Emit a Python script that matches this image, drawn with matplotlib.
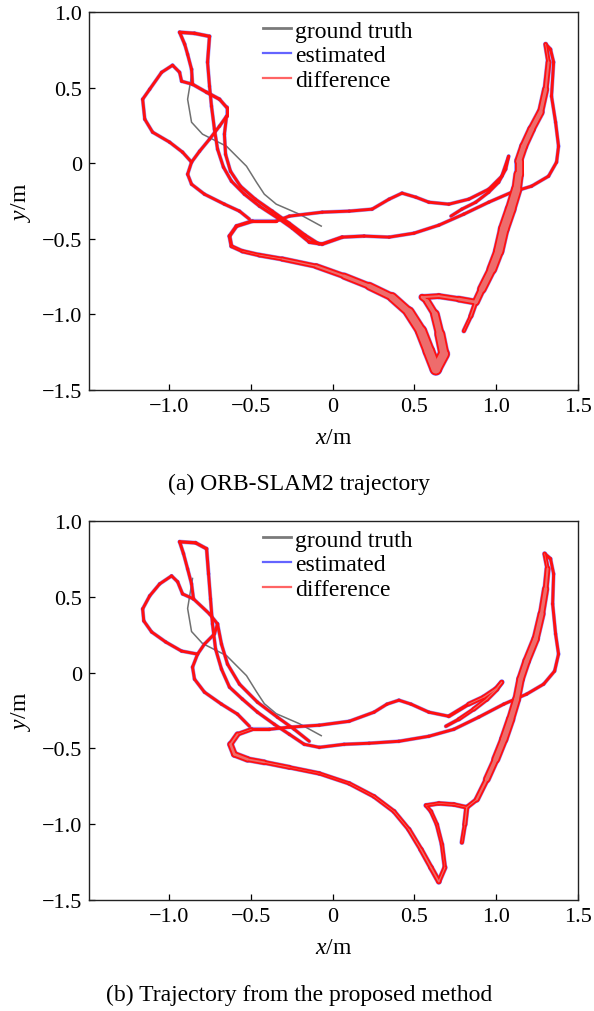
import numpy as np
import matplotlib
matplotlib.use("Agg")
import matplotlib.pyplot as plt
from matplotlib.collections import LineCollection
from matplotlib.lines import Line2D

plt.rcParams['font.family'] = ['Liberation Serif', 'DejaVu Serif']
plt.rcParams['mathtext.fontset'] = 'custom'
plt.rcParams['mathtext.rm'] = 'Liberation Serif'
plt.rcParams['mathtext.it'] = 'Liberation Serif:italic'
plt.rcParams['axes.unicode_minus'] = True

# ---------------- data ----------------
x_ticks = [-1.0, -0.5, 0.0, 0.5, 1.0, 1.5]
x_tick_labels = ['\u22121.0', '\u22120.5', '0', '0.5', '1.0', '1.5']
y_ticks = [-1.5, -1.0, -0.5, 0.0, 0.5, 1.0]
y_tick_labels = ['\u22121.5', '\u22121.0', '\u22120.5', '0', '0.5', '1.0']
legend_labels = ['ground truth', 'estimated', 'difference']
captions = ['(a) ORB-SLAM2 trajectory', '(b) Trajectory from the proposed method']

# ground-truth segment visible in both panels (m)
gt_x = [-0.857, -0.887, -0.863, -0.796, -0.649, -0.527, -0.466, -0.418, -0.345, -0.204, -0.070]
gt_y = [0.621, 0.423, 0.271, 0.192, 0.112, -0.020, -0.126, -0.205, -0.271, -0.337, -0.416]

# (a) ORB-SLAM2 estimated track (m) and difference magnitude (m)
orb_main_x = [0.723, 0.790, 0.875, 0.954, 1.015, 1.058, 1.076, 1.034, 0.954, 0.832,
              0.710, 0.588, 0.509, 0.424, 0.345, 0.241, 0.101, -0.064, -0.265, -0.345,
              -0.491, -0.588, -0.631, -0.619, -0.552, -0.448, -0.308, -0.101, 0.070, 0.223,
              0.363, 0.466, 0.540, 0.588, 0.631, 0.680, 0.655, 0.625, 0.576, 0.546,
              0.649, 0.771, 0.875, 0.912, 0.973, 1.015, 1.046, 1.088, 1.125, 1.137,
              1.137, 1.168, 1.216, 1.271, 1.302, 1.320, 1.302, 1.332, 1.351, 1.338,
              1.363, 1.381, 1.369, 1.320, 1.216, 1.095, 0.954, 0.802, 0.649, 0.497,
              0.345, 0.192, 0.058, -0.064, -0.143, -0.247, -0.326, -0.448, -0.540, -0.619,
              -0.668, -0.704, -0.723, -0.741, -0.753, -0.765, -0.753, -0.845, -0.936, -0.905,
              -0.887, -0.863, -0.857, -0.771, -0.692, -0.649, -0.649, -0.692, -0.753, -0.814,
              -0.863, -0.887, -0.863, -0.784, -0.662, -0.570, -0.509]
orb_main_y = [-0.350, -0.304, -0.258, -0.192, -0.126, -0.040, 0.046, -0.086, -0.172, -0.238,
              -0.271, -0.258, -0.225, -0.198, -0.238, -0.304, -0.317, -0.324, -0.350, -0.383,
              -0.383, -0.416, -0.482, -0.549, -0.582, -0.608, -0.634, -0.681, -0.747, -0.813,
              -0.886, -0.985, -1.110, -1.243, -1.362, -1.262, -1.130, -0.998, -0.912, -0.886,
              -0.879, -0.899, -0.919, -0.833, -0.701, -0.582, -0.436, -0.304, -0.172, -0.073,
              0.013, 0.112, 0.225, 0.337, 0.489, 0.668, 0.787, 0.753, 0.668, 0.443,
              0.271, 0.112, 0.007, -0.086, -0.152, -0.192, -0.258, -0.337, -0.410, -0.463,
              -0.489, -0.482, -0.489, -0.535, -0.522, -0.430, -0.370, -0.284, -0.205, -0.119,
              -0.026, 0.093, 0.225, 0.377, 0.509, 0.668, 0.839, 0.859, 0.866, 0.787,
              0.720, 0.621, 0.522, 0.469, 0.423, 0.370, 0.311, 0.245, 0.159, 0.079,
              0.007, -0.073, -0.139, -0.205, -0.271, -0.317, -0.370]
orb_main_e = [0.018, 0.018, 0.018, 0.018, 0.018, 0.018, 0.018, 0.018, 0.018, 0.018,
              0.018, 0.018, 0.018, 0.018, 0.018, 0.018, 0.018, 0.018, 0.018, 0.018,
              0.022, 0.022, 0.022, 0.022, 0.024, 0.026, 0.028, 0.032, 0.038, 0.046,
              0.056, 0.066, 0.072, 0.076, 0.076, 0.070, 0.062, 0.052, 0.042, 0.036,
              0.032, 0.036, 0.042, 0.052, 0.062, 0.066, 0.070, 0.070, 0.066, 0.058,
              0.052, 0.052, 0.050, 0.046, 0.038, 0.032, 0.022, 0.018, 0.018, 0.018,
              0.018, 0.018, 0.018, 0.018, 0.018, 0.018, 0.018, 0.018, 0.018, 0.018,
              0.018, 0.018, 0.020, 0.022, 0.020, 0.018, 0.018, 0.018, 0.018, 0.018,
              0.018, 0.018, 0.018, 0.018, 0.018, 0.018, 0.020, 0.020, 0.020, 0.018,
              0.018, 0.018, 0.018, 0.020, 0.020, 0.018, 0.018, 0.018, 0.018, 0.018,
              0.018, 0.018, 0.018, 0.018, 0.018, 0.018, 0.018]
orb_loop_x = [-0.863, -0.918, -0.997, -1.101, -1.149, -1.162, -1.119, -1.046, -0.979, -0.936, -0.924, -0.857]
orb_loop_y = [0.007, 0.073, 0.139, 0.205, 0.291, 0.423, 0.489, 0.601, 0.648, 0.601, 0.542, 0.522]
orb_tail_x = [0.875, 0.845, 0.802]
orb_tail_y = [-0.919, -1.011, -1.110]
orb_side_x = [-0.649, -0.662, -0.655, -0.625, -0.564, -0.473, -0.369, -0.265, -0.168, -0.082]
orb_side_y = [0.311, 0.192, 0.059, -0.053, -0.152, -0.238, -0.317, -0.397, -0.476, -0.535]

# (b) proposed method estimated track (m) and difference magnitude (m)
new_main_x = [0.692, 0.771, 0.863, 0.942, 1.003, 1.034, 0.997, 0.924, 0.832, 0.710,
              0.588, 0.479, 0.405, 0.332, 0.253, 0.101, -0.082, -0.265, -0.387, -0.497,
              -0.582, -0.625, -0.601, -0.521, -0.418, -0.265, -0.082, 0.101, 0.253, 0.375,
              0.466, 0.540, 0.601, 0.649, 0.686, 0.668, 0.637, 0.601, 0.570, 0.649,
              0.741, 0.820, 0.881, 0.942, 0.997, 1.046, 1.088, 1.125, 1.149, 1.186,
              1.241, 1.277, 1.302, 1.314, 1.296, 1.332, 1.351, 1.345, 1.363, 1.381,
              1.357, 1.290, 1.186, 1.046, 0.893, 0.741, 0.588, 0.405, 0.223, 0.070,
              -0.082, -0.174, -0.265, -0.357, -0.460, -0.552, -0.631, -0.680, -0.716, -0.735,
              -0.747, -0.759, -0.771, -0.838, -0.936, -0.912, -0.887, -0.863, -0.851, -0.753,
              -0.704, -0.723, -0.784, -0.826, -0.857, -0.845, -0.784, -0.680, -0.582, -0.509]
new_main_y = [-0.354, -0.308, -0.241, -0.175, -0.109, -0.063, -0.109, -0.162, -0.208, -0.288,
              -0.261, -0.208, -0.182, -0.208, -0.261, -0.321, -0.347, -0.360, -0.374, -0.374,
              -0.407, -0.473, -0.539, -0.572, -0.592, -0.625, -0.665, -0.731, -0.817, -0.916,
              -1.035, -1.167, -1.286, -1.379, -1.286, -1.134, -1.002, -0.916, -0.876, -0.863,
              -0.870, -0.889, -0.837, -0.704, -0.572, -0.440, -0.308, -0.175, -0.043, 0.076,
              0.222, 0.387, 0.552, 0.685, 0.784, 0.751, 0.651, 0.453, 0.255, 0.122,
              0.010, -0.076, -0.142, -0.208, -0.294, -0.374, -0.420, -0.453, -0.466, -0.473,
              -0.493, -0.473, -0.407, -0.341, -0.261, -0.175, -0.096, 0.023, 0.155, 0.321,
              0.486, 0.651, 0.817, 0.856, 0.863, 0.784, 0.684, 0.585, 0.486, 0.387,
              0.321, 0.255, 0.188, 0.122, 0.036, -0.043, -0.129, -0.208, -0.274, -0.354]
new_main_e = [0.018, 0.022, 0.026, 0.030, 0.030, 0.026, 0.030, 0.030, 0.026, 0.018,
              0.018, 0.018, 0.018, 0.018, 0.018, 0.018, 0.018, 0.018, 0.018, 0.022,
              0.030, 0.036, 0.040, 0.036, 0.030, 0.026, 0.024, 0.024, 0.026, 0.026,
              0.028, 0.030, 0.032, 0.032, 0.026, 0.024, 0.024, 0.024, 0.024, 0.026,
              0.026, 0.026, 0.030, 0.040, 0.050, 0.055, 0.055, 0.050, 0.050, 0.050,
              0.050, 0.045, 0.040, 0.030, 0.022, 0.018, 0.018, 0.018, 0.018, 0.018,
              0.018, 0.018, 0.018, 0.018, 0.018, 0.018, 0.018, 0.018, 0.018, 0.018,
              0.018, 0.018, 0.018, 0.018, 0.018, 0.018, 0.018, 0.018, 0.018, 0.018,
              0.018, 0.018, 0.020, 0.020, 0.020, 0.018, 0.018, 0.018, 0.018, 0.018,
              0.018, 0.018, 0.018, 0.018, 0.018, 0.018, 0.018, 0.018, 0.018, 0.018]
new_loop_x = [-0.826, -0.924, -1.021, -1.107, -1.155, -1.162, -1.119, -1.058, -0.985, -0.948, -0.918, -0.851]
new_loop_y = [0.122, 0.142, 0.202, 0.268, 0.341, 0.420, 0.506, 0.585, 0.638, 0.599, 0.519, 0.486]
new_tail_x = [0.820, 0.808, 0.790]
new_tail_y = [-0.889, -1.002, -1.121]
new_side_x = [-0.704, -0.680, -0.643, -0.570, -0.460, -0.338, -0.235, -0.143]
new_side_y = [0.321, 0.188, 0.056, -0.076, -0.195, -0.294, -0.374, -0.453]

thin_err = 0.018

# ---------------- figure ----------------
W, H = 5.94, 10.12
fig = plt.figure(figsize=(W, H), dpi=100)
ax_pos = [[89 / 594, 1 - 391 / 1012, 489 / 594, 378 / 1012],
          [89 / 594, 1 - 901 / 1012, 489 / 594, 379 / 1012]]
XLIM = (-1.49, 1.5)
YLIM = (-1.5, 1.0)

RED = '#ff1010'
PINK = '#ee6c6c'
BLUE = '#5050ff'


def draw_track(ax, xs, ys, es, pt_per_m):
    pts = np.column_stack([xs, ys])
    segs = np.stack([pts[:-1], pts[1:]], axis=1)
    e = np.asarray(es, dtype=float)
    w = (e[:-1] + e[1:]) / 2 * pt_per_m
    ax.add_collection(LineCollection(segs, colors=BLUE, linewidths=w + 0.7, alpha=0.55,
                                     capstyle='round', joinstyle='round', zorder=3))
    ax.add_collection(LineCollection(segs, colors=RED, linewidths=w,
                                     capstyle='round', joinstyle='round', zorder=4))
    inner = np.clip(w - 2.6, 0, None)
    ax.add_collection(LineCollection(segs, colors=PINK, linewidths=inner,
                                     capstyle='round', joinstyle='round', zorder=5))


panels = [
    (orb_main_x, orb_main_y, orb_main_e, orb_loop_x, orb_loop_y, orb_tail_x, orb_tail_y, orb_side_x, orb_side_y),
    (new_main_x, new_main_y, new_main_e, new_loop_x, new_loop_y, new_tail_x, new_tail_y, new_side_x, new_side_y),
]
caption_y = [1 - 484 / 1012, 1 - 995 / 1012]

for i, (mx, my, me, lx, ly, tx, ty, sx, sy) in enumerate(panels):
    ax = fig.add_axes(ax_pos[i])
    ax.set_xlim(*XLIM)
    ax.set_ylim(*YLIM)
    pt_per_m = ax_pos[i][2] * W * 72 / (XLIM[1] - XLIM[0])

    ax.plot(gt_x, gt_y, color='#707070', lw=1.1, zorder=2)
    draw_track(ax, mx, my, me, pt_per_m)
    draw_track(ax, lx, ly, [thin_err] * len(lx), pt_per_m)
    draw_track(ax, tx, ty, [0.032, 0.028, 0.022], pt_per_m)
    draw_track(ax, sx, sy, [thin_err] * len(sx), pt_per_m)

    ax.set_xticks(x_ticks)
    ax.set_xticklabels(x_tick_labels)
    ax.set_yticks(y_ticks)
    ax.set_yticklabels(y_tick_labels)
    ax.tick_params(direction='in', length=4, width=0.9, labelsize=16, pad=5,
                   top=False, right=False, colors='black')
    for sp in ax.spines.values():
        sp.set_linewidth(1.0)
        sp.set_color('#222222')
    ax.set_xlabel(r'$x$/m', fontsize=17, labelpad=8)
    ax.set_ylabel(r'$y$/m', fontsize=17, labelpad=6)

    handles = [Line2D([], [], color='#7a7a7a', lw=2.0),
               Line2D([], [], color='#6464ff', lw=1.6),
               Line2D([], [], color='#ff6464', lw=1.6)]
    ax.legend(handles, legend_labels, loc='upper left', bbox_to_anchor=(0.352, 0.985),
              frameon=False, fontsize=17, handlelength=1.15, handletextpad=0.18,
              labelspacing=0.14, borderaxespad=0.0, borderpad=0.1)

    fig.text(0.503, caption_y[i], captions[i], ha='center', va='center', fontsize=17)

fig.savefig('out.png', dpi=100)
